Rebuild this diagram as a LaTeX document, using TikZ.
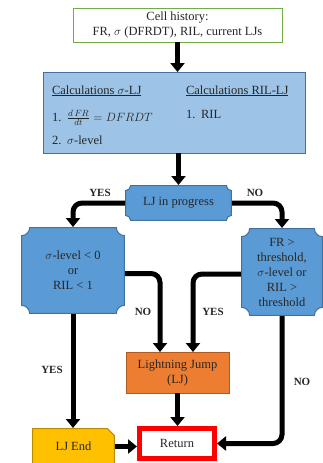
\documentclass[tikz,border=0pt]{standalone}
\usepackage{fontspec}
\setmainfont{Liberation Serif}
\usetikzlibrary{arrows.meta,calc}
\definecolor{boxblue}{HTML}{9DC3E6}
\definecolor{decblue}{HTML}{5B9BD5}
\definecolor{edgeblue}{HTML}{41719C}
\definecolor{ljorange}{HTML}{ED7D31}
\definecolor{ljorangeedge}{HTML}{AE5A21}
\definecolor{ljgold}{HTML}{FFC000}
\definecolor{goldedge}{HTML}{BC8C00}
\definecolor{cellgreen}{HTML}{70AD47}
\definecolor{txt}{HTML}{262626}
\begin{document}
\begin{tikzpicture}[x=1pt,y=1pt,
  every node/.style={text=txt, font=\fontsize{12.5}{15}\selectfont, inner sep=0pt, outer sep=0pt},
  flow/.style={line width=5pt, -{Triangle[width=14pt,length=9pt]}},
  lbl/.style={font=\fontsize{11}{12}\selectfont\bfseries},
  plaque/.style={path picture={
    \coordinate (pA) at ([shift={(0.6pt,-0.6pt)}]path picture bounding box.north west);
    \coordinate (pB) at ([shift={(-0.6pt,0.6pt)}]path picture bounding box.south east);
    \draw[fill=decblue,draw=edgeblue,line width=1pt] let \p1=(pA),\p2=(pB),\n1={#1} in
      (\x1+\n1,\y1) -- (\x2-\n1,\y1) .. controls (\x2-\n1,\y1-0.55*\n1) and (\x2-0.55*\n1,\y1-\n1) .. (\x2,\y1-\n1)
      -- (\x2,\y2+\n1) .. controls (\x2-0.55*\n1,\y2+\n1) and (\x2-\n1,\y2+0.55*\n1) .. (\x2-\n1,\y2)
      -- (\x1+\n1,\y2) .. controls (\x1+\n1,\y2+0.55*\n1) and (\x1+0.55*\n1,\y2+\n1) .. (\x1,\y2+\n1)
      -- (\x1,\y1-\n1) .. controls (\x1+0.55*\n1,\y1-\n1) and (\x1+\n1,\y1-0.55*\n1) .. cycle;
  }},
  chamf/.style={path picture={
    \coordinate (pA) at ([shift={(0.6pt,-0.6pt)}]path picture bounding box.north west);
    \coordinate (pB) at ([shift={(-0.6pt,0.6pt)}]path picture bounding box.south east);
    \draw[fill=ljgold,draw=goldedge,line width=1pt] let \p1=(pA),\p2=(pB),\n1={#1} in
      (\x1,\y1) -- (\x2-\n1,\y1) -- (\x2,\y1-\n1) -- (\x2,\y2) -- (\x1,\y2) -- cycle;
  }}
]
\useasboundingbox (0,0) rectangle (323,-463);

% boxes
\node[draw=cellgreen, line width=1pt, fill=white, minimum width=209pt, minimum height=34pt, align=center]
  (cell) at (177.5,-25) {Cell history:\\FR, $\sigma$ (DFRDT), RIL, current LJs};

\node[draw=edgeblue, fill=boxblue, line width=1pt, minimum width=262pt, minimum height=81pt] (calc) at (174,-112.5) {};
\node[anchor=base west] (c1) at (52,-94) {\underline{Calculations $\sigma$-LJ}};
\node[anchor=base west] (c2) at (186,-94) {\underline{Calculations RIL-LJ}};
\node[anchor=base west] (c3) at (52,-121) {\makebox[15pt][l]{1.}$\frac{d\,FR}{dt} = DFRDT$};
\node[anchor=base west] (c4) at (52,-144) {\makebox[15pt][l]{2.}$\sigma$-level};
\node[anchor=base west] (c5) at (186,-118) {\makebox[15pt][l]{1.}RIL};

\node[plaque=5pt, minimum width=107pt, minimum height=36pt] (prog) at (178.5,-203) {LJ in progress};
\node[plaque=8pt, minimum width=104pt, minimum height=87pt, align=center] (left) at (73,-270.5)
  {$\sigma$-level < 0\\or\\RIL < 1};
\node[plaque=8pt, minimum width=82pt, minimum height=88pt, align=center] (right) at (282,-272)
  {FR >\\threshold,\\$\sigma$-level or\\RIL >\\threshold};

\node[draw=ljorangeedge, fill=ljorange, line width=1pt, minimum width=103pt, minimum height=41pt, align=center]
  (lj) at (177.5,-372.5) {Lightning Jump\\(LJ)};
\node[draw=red, line width=5pt, fill=white, minimum width=75pt, minimum height=30pt, outer sep=2.5pt]
  (ret) at (177,-443.5) {Return};
\node[chamf=7pt, minimum width=83pt, minimum height=37pt] (ljend) at (73.5,-446.5) {LJ End};

% connectors
\draw[flow] (cell.south) -- (cell.south |- calc.north);
\draw[flow] (prog.north |- calc.south) -- (prog.north);
\draw[flow, rounded corners=9pt] (prog.west) -| (left.north);
\draw[flow, rounded corners=9pt] (prog.east) -| (right.north);
\draw[flow, rounded corners=9pt] ([yshift=-3pt]left.east) -| ([xshift=-17.5pt]lj.north);
\draw[flow, rounded corners=9pt] ([yshift=-2pt]right.west) -| ([xshift=15.5pt]lj.north);
\draw[flow] (lj.south) -- (lj.south |- ret.north);
\draw[flow] (left.south) -- (left.south |- ljend.north);
\draw[flow] (ljend.east) -- (ljend.east -| ret.west);
\draw[flow, rounded corners=9pt] (right.south) |- (ret.east);

% labels
\node[lbl] (yes1) at (100,-193) {YES};
\node[lbl] (no1) at (255,-193) {NO};
\node[lbl] (no2) at (143,-312) {NO};
\node[lbl] (yes2) at (213,-312) {YES};
\node[lbl] (yes3) at (52,-370) {YES};
\node[lbl] (no3) at (302,-382) {NO};
\end{tikzpicture}
\end{document}
